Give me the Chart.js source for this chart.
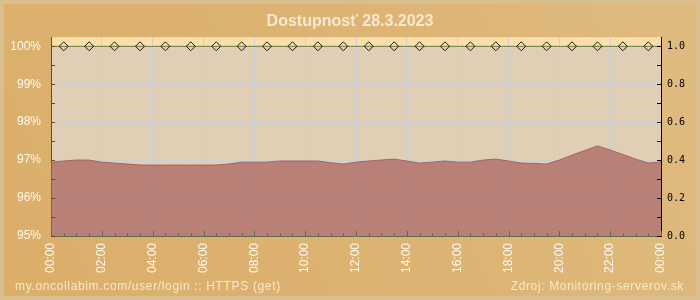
<!DOCTYPE html>
<html>
<head>
<meta charset="utf-8">
<script src="https://cdn.jsdelivr.net/npm/chart.js@4.4.0/dist/chart.umd.min.js"></script>
<style>
  html, body { margin: 0; padding: 0; background: #dcb170; }
  #wrap { width: 700px; height: 300px; }
</style>
</head>
<body>
<div id="wrap"><canvas id="chart" width="700" height="300"></canvas></div>
<script>
// Dostupnost + odozva, 28.3.2023
const titleText = 'Dostupnosť 28.3.2023';
const footerLeft = 'my.oncollabim.com/user/login :: HTTPS (get)';
const footerRight = 'Zdroj: Monitoring-serverov.sk';

// axis ticks
const hourTicks = [0, 2, 4, 6, 8, 10, 12, 14, 16, 18, 20, 22, 24];
const hourLabels = ['00:00', '02:00', '04:00', '06:00', '08:00', '10:00', '12:00',
                    '14:00', '16:00', '18:00', '20:00', '22:00', '00:00'];
const availTicks = [95, 96, 97, 98, 99, 100];
const respTicks = [0, 0.2, 0.4, 0.6, 0.8, 1.0];

// availability (%), one marker per hour
const availHours = [0.5, 1.5, 2.5, 3.5, 4.5, 5.5, 6.5, 7.5, 8.5, 9.5, 10.5, 11.5,
                    12.5, 13.5, 14.5, 15.5, 16.5, 17.5, 18.5, 19.5, 20.5, 21.5, 22.5, 23.5];
const availValues = [100, 100, 100, 100, 100, 100, 100, 100, 100, 100, 100, 100,
                     100, 100, 100, 100, 100, 100, 100, 100, 100, 100, 100, 100];

// response time (s), every 30 min
const respHours = [0, 0.5, 1, 1.5, 2, 2.5, 3, 3.5, 4, 4.5, 5, 5.5, 6, 6.5, 7, 7.5,
                   8, 8.5, 9, 9.5, 10, 10.5, 11, 11.5, 12, 12.5, 13, 13.5, 14, 14.5, 15, 15.5,
                   16, 16.5, 17, 17.5, 18, 18.5, 19, 19.5, 20, 20.5, 21, 21.5, 22, 22.5, 23, 23.5, 24];
const respValues = [0.388, 0.395, 0.400, 0.400, 0.389, 0.384, 0.379, 0.374,
                    0.374, 0.374, 0.374, 0.374, 0.374, 0.374, 0.379, 0.389,
                    0.389, 0.389, 0.395, 0.395, 0.395, 0.395, 0.386, 0.379,
                    0.389, 0.395, 0.400, 0.405, 0.395, 0.384, 0.389, 0.395,
                    0.389, 0.389, 0.400, 0.405, 0.395, 0.384, 0.382, 0.379,
                    0.400, 0.426, 0.450, 0.474, 0.453, 0.429, 0.405, 0.384, 0.390];

const labelFont = { family: 'Liberation Sans', size: 12 };

function line(ctx, x1, y1, x2, y2) {
    ctx.beginPath();
    ctx.moveTo(x1, y1);
    ctx.lineTo(x2, y2);
    ctx.stroke();
}

const framePlugin = {
    id: 'frame',
    beforeDraw(chart) {
        const { ctx, width, height, chartArea: a, scales } = chart;
        ctx.save();
        const g = ctx.createLinearGradient(0, height, width, 0);
        g.addColorStop(0, '#dbae6a');
        g.addColorStop(0.6, '#ddb474');
        g.addColorStop(1, '#e0bb80');
        ctx.fillStyle = g;
        ctx.fillRect(0, 0, width, height);
        ctx.strokeStyle = '#d9be90';
        ctx.lineWidth = 4;
        ctx.strokeRect(2, 2, width - 4, height - 4);

        const top100 = scales.y.getPixelForValue(100);
        ctx.fillStyle = '#e0cfb4';
        ctx.fillRect(a.left, top100, a.right - a.left, a.bottom - top100);
        ctx.fillStyle = '#fedfa9';
        ctx.fillRect(a.left, a.top, a.right - a.left, top100 - a.top);
        ctx.restore();
    },
    afterDatasetsDraw(chart) {
        const { ctx, chartArea: a, scales } = chart;
        ctx.save();
        ctx.lineWidth = 1;
        // bottom ticks, every 30 min
        ctx.strokeStyle = '#5f6e44';
        for (let h = 0; h <= 24; h += 0.5) {
            const px = Math.round(scales.x.getPixelForValue(h)) + 0.5;
            line(ctx, px, a.bottom, px, a.bottom - (h % 2 === 0 ? 5 : 3));
        }
        // left ticks
        ctx.strokeStyle = '#6b4a1e';
        for (let v = 95; v <= 100; v += 0.5) {
            const py = Math.round(scales.y.getPixelForValue(v)) + 0.5;
            line(ctx, a.left, py, a.left + 4, py);
        }
        // right ticks
        ctx.strokeStyle = '#000';
        for (let i = 0; i <= 10; i++) {
            const py = Math.round(scales.y1.getPixelForValue(i / 10)) + 0.5;
            line(ctx, a.right, py, a.right - 4, py);
        }
        ctx.restore();
    },
    afterDraw(chart) {
        const { ctx } = chart;
        ctx.save();
        ctx.font = '12px "Liberation Sans"';
        ctx.letterSpacing = '0.65px';
        ctx.fillStyle = '#f6e9cd';
        ctx.textBaseline = 'alphabetic';
        ctx.textAlign = 'left';
        ctx.fillText(footerLeft, 15, 290);
        ctx.textAlign = 'right';
        ctx.fillText(footerRight, 684, 290);
        ctx.restore();
    }
};

const availData = [{ x: 0, y: availValues[0] }]
    .concat(availHours.map((h, i) => ({ x: h, y: availValues[i] })))
    .concat([{ x: 24, y: availValues[availValues.length - 1] }]);
const respData = respHours.map((h, i) => ({ x: h, y: respValues[i] }));

new Chart(document.getElementById('chart').getContext('2d'), {
    type: 'line',
    data: {
        datasets: [
            {
                label: 'Dostupnosť',
                data: availData,
                yAxisID: 'y',
                borderColor: '#6b7a3c',
                borderWidth: 1,
                pointStyle: 'rectRot',
                pointRadius: c => (c.dataIndex === 0 || c.dataIndex === availData.length - 1) ? 0 : 4.5,
                pointBorderColor: '#1a1a1a',
                pointBackgroundColor: 'rgba(0,0,0,0)',
                pointBorderWidth: 1,
                clip: false
            },
            {
                label: 'Odozva',
                data: respData,
                yAxisID: 'y1',
                borderColor: '#b0605a',
                borderWidth: 1,
                backgroundColor: 'rgba(167,97,94,0.72)',
                fill: 'origin',
                pointRadius: 0,
                tension: 0
            }
        ]
    },
    options: {
        responsive: false,
        animation: false,
        layout: { padding: 0 },
        plugins: {
            legend: { display: false },
            tooltip: { enabled: false },
            title: {
                display: true,
                text: titleText,
                color: '#f7ead0',
                font: { family: 'Liberation Sans', size: 16, weight: 'bold' },
                padding: { top: 12, bottom: 6 }
            }
        },
        scales: {
            x: {
                type: 'linear',
                min: 0,
                max: 24,
                afterBuildTicks: s => { s.ticks = hourTicks.map(v => ({ value: v })); },
                afterFit: s => { s.height = 64; },
                ticks: {
                    autoSkip: false,
                    minRotation: 90,
                    maxRotation: 90,
                    padding: 7,
                    color: '#fffaf0',
                    font: labelFont,
                    callback: (v, i) => hourLabels[i]
                },
                grid: { color: '#cdcfd6', drawTicks: false },
                border: { color: '#5f6e44', width: 1 }
            },
            y: {
                position: 'left',
                min: 95,
                max: 100.24,
                afterBuildTicks: s => { s.ticks = availTicks.map(v => ({ value: v })); },
                afterFit: s => { s.width = 51; },
                ticks: {
                    padding: 10,
                    color: '#fffaf0',
                    font: labelFont,
                    callback: v => v + '%'
                },
                grid: { color: '#cdcfd6', drawTicks: false },
                border: { color: '#6b4a1e', width: 1 }
            },
            y1: {
                position: 'right',
                min: 0,
                max: 1.047,
                afterBuildTicks: s => { s.ticks = respTicks.map(v => ({ value: v })); },
                afterFit: s => { s.width = 39; },
                ticks: {
                    padding: 6,
                    color: '#000',
                    font: { family: 'DejaVu Sans Mono', size: 10 },
                    callback: v => v.toFixed(1)
                },
                grid: { display: false, drawTicks: false },
                border: { color: '#000', width: 1 }
            }
        }
    },
    plugins: [framePlugin]
});
</script>
</body>
</html>
